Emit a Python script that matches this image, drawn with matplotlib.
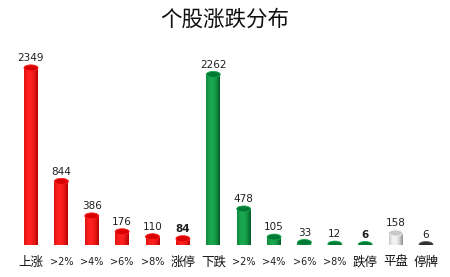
import numpy as np
import matplotlib.pyplot as plt
from matplotlib.patches import Ellipse
from matplotlib.colors import LinearSegmentedColormap

plt.rcParams['font.family'] = ['Noto Sans CJK SC', 'DejaVu Sans']

# data
labels = ['上涨', '>2%', '>4%', '>6%', '>8%', '涨停',
          '下跌', '>2%', '>4%', '>6%', '>8%', '跌停', '平盘', '停牌']
values = [2349, 844, 386, 176, 110, 84, 2262, 478, 105, 33, 12, 6, 158, 6]
groups = ['up'] * 6 + ['down'] * 6 + ['flat', 'halt']
bold = [False] * 5 + [True] + [False] * 5 + [True, False, False]

# (edge, highlight, top) per group
palette = {
    'up': ('#b00000', '#ff2020', '#d80000'),
    'down': ('#005a25', '#1aa84e', '#007a35'),
    'flat': ('#8c8c8c', '#f4f4f4', '#c8c8c8'),
    'halt': ('#101010', '#606060', '#303030'),
}

fig = plt.figure(figsize=(4.5, 2.77), dpi=100)
ax = fig.add_axes([0, 32 / 277, 1, 1 - 32 / 277 - 40 / 277])
x = np.arange(len(values))
w = 0.46
px = 0.0754  # pixels per unit
ymax = 205 / px
ax.set_xlim(-31 / 30.4, 13 + 24 / 30.4)
ax.set_ylim(0, ymax)
ax.axis('off')

eh = 6 / px  # ellipse height in data units
prof = np.linspace(0, 1, 64)
shade = np.clip(1 - ((prof - 0.4) / 0.6) ** 2, 0, 1)[None, :]

bars = ax.bar(x, values, width=w, color='none', edgecolor='none')
for xi, v, g, rect in zip(x, values, groups, bars):
    edge, hi, top = palette[g]
    cmap = LinearSegmentedColormap.from_list(g, [edge, hi])
    im = ax.imshow(shade, cmap=cmap, aspect='auto', vmin=0, vmax=1,
                   extent=[xi - w / 2, xi + w / 2, 0, v], zorder=2)
    im.set_clip_path(rect)
    bot = Ellipse((xi, 0), w, eh, facecolor='none', edgecolor='none')
    ax.add_patch(bot)
    im2 = ax.imshow(shade, cmap=cmap, aspect='auto', vmin=0, vmax=1,
                    extent=[xi - w / 2, xi + w / 2, -eh / 2, eh / 2], zorder=2)
    im2.set_clip_path(bot)
    ax.add_patch(Ellipse((xi, v), w, eh, facecolor=top, edgecolor=hi,
                         linewidth=0.6, zorder=3))

for xi, v, b in zip(x, values, bold):
    ax.annotate(str(v), (xi, v), xytext=(0, 3.5), textcoords='offset points',
                ha='center', va='bottom', fontsize=7.5,
                fontweight='bold' if b else 'normal', color='#202020',
                family=['DejaVu Sans'])

for xi, lab in zip(x, labels):
    if lab.startswith('>'):
        ax.text(xi, -17 / px, lab, ha='center', va='center', fontsize=7,
                color='#202020', family=['DejaVu Sans'])
    else:
        ax.text(xi, -17 / px, lab, ha='center', va='center', fontsize=9,
                color='#101010')

fig.text(0.5, 1 - 20 / 277, '个股涨跌分布', ha='center', va='center',
         fontsize=15.5, color='#101010')

fig.savefig('out.png', dpi=100)
